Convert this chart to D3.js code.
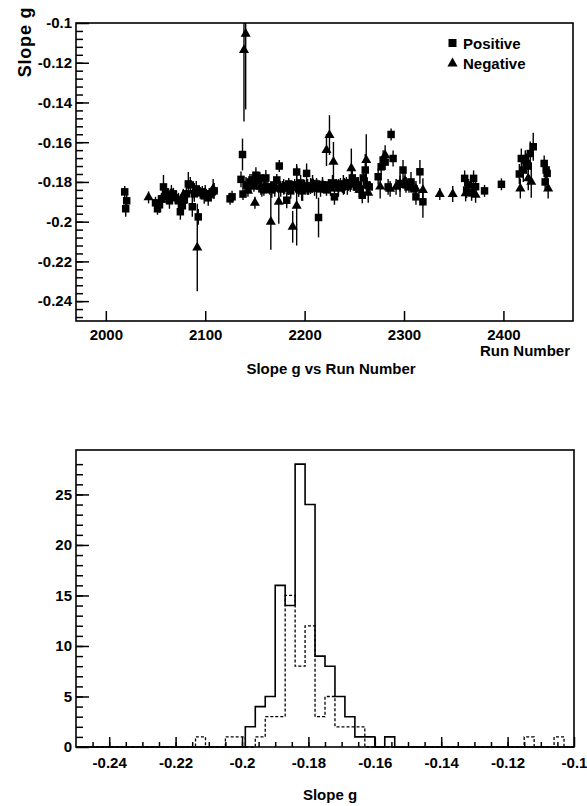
<!DOCTYPE html>
<html>
<head>
<meta charset="utf-8">
<script src="https://cdn.jsdelivr.net/npm/d3@7"></script>
<style>
  body { margin: 0; background: #fff; }
  svg { display: block; }
  text { font-family: "Liberation Sans", Arial, sans-serif; font-weight: bold; fill: #000; }
</style>
</head>
<body>
<svg id="chart" width="587" height="806"></svg>
<script>
// ---------- DATA ----------
// Top plot: [run number, slope g, error]
const positiveRuns = [
  [2019,-0.185,0.003],[2020,-0.1935,0.004],[2021,-0.1895,0.003],
  [2050,-0.1905,0.003],[2052,-0.1935,0.003],[2054,-0.1915,0.004],[2056,-0.1885,0.003],
  [2058,-0.1825,0.006],[2060,-0.185,0.004],[2062,-0.1875,0.003],[2064,-0.1895,0.004],
  [2066,-0.187,0.003],[2068,-0.186,0.003],[2070,-0.188,0.003],[2073,-0.1895,0.004],
  [2075,-0.195,0.004],[2077,-0.192,0.003],[2079,-0.189,0.004],[2081,-0.186,0.005],
  [2083,-0.181,0.006],[2085,-0.1815,0.004],[2087,-0.1925,0.005],[2089,-0.186,0.004],
  [2091,-0.1835,0.004],[2093,-0.1976,0.004],[2095,-0.1855,0.003],[2097,-0.185,0.003],
  [2099,-0.187,0.004],[2101,-0.1865,0.003],[2103,-0.188,0.004],[2105,-0.186,0.003],
  [2107,-0.185,0.003],[2109,-0.1845,0.004],
  [2125,-0.1885,0.003],[2127,-0.1875,0.003],
  [2136,-0.1787,0.004],[2137.5,-0.1662,0.008],[2138,-0.1861,0.003],[2141,-0.1815,0.004],
  [2143,-0.183,0.003],[2145,-0.18,0.004],[2147,-0.179,0.003],[2149,-0.182,0.003],
  [2151,-0.1766,0.004],[2153,-0.1795,0.003],[2155,-0.178,0.003],[2157,-0.1835,0.004],
  [2159,-0.184,0.003],[2161,-0.178,0.004],[2163,-0.1825,0.003],[2165,-0.1835,0.003],
  [2167,-0.184,0.004],[2169,-0.1815,0.003],[2172,-0.179,0.003],[2174.5,-0.172,0.003],
  [2176,-0.1835,0.004],[2178,-0.1825,0.003],[2180,-0.183,0.003],[2182,-0.1892,0.004],
  [2184,-0.181,0.003],[2186,-0.1845,0.004],[2188,-0.1825,0.003],[2190,-0.1815,0.003],
  [2192,-0.175,0.004],[2194,-0.1835,0.004],[2196,-0.1805,0.004],[2198,-0.1845,0.005],
  [2200,-0.182,0.003],[2202,-0.1757,0.005],[2204,-0.1835,0.003],[2206,-0.182,0.004],
  [2208,-0.1825,0.003],[2210,-0.183,0.004],[2212,-0.181,0.003],[2214,-0.1979,0.01],
  [2216,-0.1835,0.004],[2218,-0.1815,0.003],[2220,-0.1825,0.003],[2222,-0.184,0.003],
  [2224,-0.1815,0.003],[2226,-0.183,0.004],[2228,-0.1805,0.004],[2230,-0.1875,0.004],
  [2232,-0.1815,0.003],[2234,-0.1825,0.004],[2236,-0.181,0.003],[2238,-0.1825,0.003],
  [2240,-0.182,0.004],[2242,-0.1805,0.003],[2244,-0.1815,0.003],[2246,-0.181,0.004],
  [2248,-0.178,0.004],[2250,-0.1795,0.003],[2252,-0.1825,0.003],[2254,-0.1815,0.004],
  [2256,-0.1835,0.003],[2258,-0.1867,0.004],[2259,-0.178,0.005],[2261,-0.174,0.008],
  [2263,-0.1816,0.004],[2265,-0.1825,0.003],[2274,-0.1774,0.004],[2277,-0.1724,0.004],
  [2279,-0.169,0.005],[2281,-0.17,0.004],[2284,-0.1825,0.004],[2287,-0.1561,0.003],
  [2289,-0.1682,0.004],[2296,-0.1808,0.004],[2299,-0.174,0.005],[2302,-0.1815,0.004],
  [2305,-0.1825,0.003],[2307,-0.18,0.005],[2310,-0.1835,0.004],[2312,-0.1875,0.004],
  [2316,-0.1749,0.006],[2319,-0.19,0.008],
  [2361,-0.1782,0.004],[2363,-0.1841,0.004],[2365,-0.1815,0.003],[2368,-0.1855,0.004],
  [2370,-0.1782,0.004],[2372,-0.1824,0.004],[2381,-0.1845,0.003],[2398,-0.1812,0.003],
  [2416,-0.176,0.005],[2418,-0.1682,0.005],[2420,-0.174,0.006],[2422,-0.169,0.005],
  [2423,-0.1707,0.005],[2425,-0.172,0.006],[2427,-0.1657,0.006],[2430,-0.1623,0.007],
  [2441,-0.1707,0.004],[2442,-0.18,0.004],[2443,-0.174,0.004],[2444,-0.1757,0.005]
];
const negativeRuns = [
  [2043,-0.1878,0.003],[2056,-0.189,0.003],[2066,-0.1855,0.004],[2078,-0.1865,0.003],
  [2089,-0.1845,0.004],[2092,-0.213,0.022],[2100,-0.1855,0.004],[2108,-0.1835,0.005],
  [2139,-0.1136,0.036],[2140.7,-0.1055,0.038],[2143,-0.1845,0.003],[2150,-0.1905,0.003],
  [2156,-0.1825,0.004],[2160,-0.1815,0.003],[2166,-0.2001,0.014],[2170,-0.1835,0.004],
  [2174,-0.190,0.011],[2179,-0.1825,0.004],[2184,-0.1835,0.003],[2188,-0.2026,0.008],
  [2192,-0.192,0.02],[2197,-0.1845,0.005],[2203,-0.1825,0.004],[2208,-0.1805,0.004],
  [2212,-0.1835,0.005],[2218,-0.1815,0.004],[2222,-0.164,0.008],[2225,-0.1564,0.01],
  [2229,-0.1699,0.01],[2234,-0.1835,0.004],[2239,-0.1815,0.005],[2243,-0.1825,0.004],
  [2247,-0.1732,0.01],[2250,-0.1805,0.004],[2255,-0.184,0.004],[2262,-0.169,0.013],
  [2264,-0.1855,0.005],[2276,-0.1824,0.006],[2281,-0.1665,0.005],[2286,-0.1835,0.004],
  [2292,-0.1825,0.004],[2296,-0.1816,0.006],[2301,-0.1795,0.005],[2312,-0.1835,0.004],
  [2319,-0.1841,0.006],[2336,-0.1861,0.003],[2349,-0.1861,0.004],[2362,-0.1858,0.004],
  [2372,-0.1865,0.004],[2417,-0.1833,0.005],[2425,-0.1782,0.006],[2428,-0.18,0.008],
  [2445,-0.1833,0.005]
];
const runTicks = [2000, 2100, 2200, 2300, 2400];
const slopeTicks = [-0.1, -0.12, -0.14, -0.16, -0.18, -0.2, -0.22, -0.24];

// Bottom plot: histogram, 50 bins from -0.25 to -0.1
const histBinLow = -0.25, histBinWidth = 0.003;
const positiveCounts = [0,0,0,0,0,0,0,0,0,0, 0,0,0,0,0,0,0,2,4,5, 16,14,28,24,9,8,5,3,1,1, 0,1,0,0,0,0,0,0,0,0, 0,0,0,0,0,0,0,0,0,0];
const negativeCounts = [0,0,0,0,0,0,0,0,0,0, 0,0,1,0,0,1,1,0,1,3, 3,15,8,12,3,5,2,2,2,0, 0,0,0,0,0,0,0,0,0,0, 0,0,0,0,0,1,0,0,1,0];
const histXTicks = [-0.24, -0.22, -0.2, -0.18, -0.16, -0.14, -0.12, -0.1];
const histYTicks = [0, 5, 10, 15, 20, 25];

// ---------- DRAW ----------
const svg = d3.select("#chart");
const fmt = d => String(+d.toFixed(3));

// ===== Top plot =====
const boxTop = {l: 76, r: 573, t: 23, b: 321};
const xRun = d3.scaleLinear().domain([1970, 2470]).range([boxTop.l, boxTop.r]);
const ySlope = d3.scaleLinear().domain([-0.25, -0.1]).range([boxTop.b, boxTop.t]);

svg.append("clipPath").attr("id", "clipTop")
  .append("rect").attr("x", boxTop.l).attr("y", boxTop.t).attr("width", boxTop.r - boxTop.l).attr("height", boxTop.b - boxTop.t);

const gTop = svg.append("g").attr("clip-path", "url(#clipTop)");

function drawSeries(data, symType, size) {
  gTop.append("g").selectAll("line").data(data).join("line")
    .attr("x1", d => xRun(d[0])).attr("x2", d => xRun(d[0]))
    .attr("y1", d => ySlope(d[1] - d[2])).attr("y2", d => ySlope(d[1] + d[2]))
    .attr("stroke", "#000").attr("stroke-width", 1.4);
  gTop.append("g").selectAll("path").data(data).join("path")
    .attr("transform", d => `translate(${xRun(d[0])},${ySlope(d[1])})`)
    .attr("d", d3.symbol().type(symType).size(size))
    .attr("fill", "#000");
}
drawSeries(positiveRuns, d3.symbolSquare, 56);
drawSeries(negativeRuns, d3.symbolTriangle, 44);

// axes
const yMinorTop = d3.range(-0.248, -0.1, 0.004).map(v => +v.toFixed(3));
svg.append("g").attr("transform", `translate(${boxTop.l},0)`)
  .call(d3.axisLeft(ySlope).tickValues(yMinorTop).tickSize(-7).tickFormat(""))
  .call(g => g.select(".domain").remove());
svg.append("g").attr("transform", `translate(${boxTop.l},0)`)
  .call(d3.axisLeft(ySlope).tickValues(slopeTicks).tickSize(-13).tickPadding(4).tickFormat(fmt))
  .call(g => g.select(".domain").remove())
  .call(g => g.selectAll("text").style("font-size", "15px"));
svg.append("g").attr("transform", `translate(0,${boxTop.b})`)
  .call(d3.axisBottom(xRun).tickValues(runTicks).tickSize(-10).tickPadding(8).tickFormat(d3.format("d")))
  .call(g => g.select(".domain").remove())
  .call(g => g.selectAll("text").style("font-size", "15px"));
svg.selectAll(".tick line").attr("stroke", "#000").attr("stroke-width", 1.5);

svg.append("rect").attr("x", boxTop.l).attr("y", boxTop.t).attr("width", boxTop.r - boxTop.l).attr("height", boxTop.b - boxTop.t)
  .attr("fill", "none").attr("stroke", "#000").attr("stroke-width", 1.6);

// labels
svg.append("text").attr("transform", "translate(31,42) rotate(-90)")
  .attr("text-anchor", "middle").style("font-size", "18px").style("letter-spacing", "0.8px").text("Slope g");
svg.append("text").attr("x", 570).attr("y", 356).attr("text-anchor", "end")
  .style("font-size", "15px").text("Run Number");
svg.append("text").attr("x", 331).attr("y", 374).attr("text-anchor", "middle")
  .style("font-size", "15px").text("Slope g vs Run Number");

// legend
const leg = svg.append("g");
leg.append("path").attr("transform", "translate(452.5,43)").attr("d", d3.symbol().type(d3.symbolSquare).size(64)).attr("fill", "#000");
leg.append("text").attr("x", 463).attr("y", 48.5).style("font-size", "15px").text("Positive");
leg.append("path").attr("transform", "translate(452.5,63.5)").attr("d", d3.symbol().type(d3.symbolTriangle).size(45)).attr("fill", "#000");
leg.append("text").attr("x", 463).attr("y", 68.5).style("font-size", "15px").text("Negative");

// ===== Bottom plot =====
const boxBot = {l: 76, r: 574, t: 450, b: 747};
const xSlope = d3.scaleLinear().domain([-0.25, -0.1]).range([boxBot.l, boxBot.r]);
const yCount = d3.scaleLinear().domain([0, 29.4]).range([boxBot.b, boxBot.t]);

function stepPoints(counts) {
  const pts = counts.map((c, i) => [histBinLow + i * histBinWidth, c]);
  pts.push([histBinLow + counts.length * histBinWidth, counts[counts.length - 1]]);
  return pts;
}
const stepLine = d3.line().x(d => xSlope(d[0])).y(d => yCount(d[1])).curve(d3.curveStepAfter);

svg.append("path").attr("d", stepLine(stepPoints(negativeCounts)))
  .attr("fill", "none").attr("stroke", "#000").attr("stroke-width", 1.3).attr("stroke-dasharray", "3,2");
svg.append("path").attr("d", stepLine(stepPoints(positiveCounts)))
  .attr("fill", "none").attr("stroke", "#000").attr("stroke-width", 1.6);

const hxMinor = d3.range(-0.245, -0.1, 0.005).map(v => +v.toFixed(3));
const hyMinor = d3.range(1, 29, 1);
const gb = svg.append("g");
gb.append("g").attr("transform", `translate(0,${boxBot.b})`)
  .call(d3.axisBottom(xSlope).tickValues(hxMinor).tickSize(-5).tickFormat(""))
  .call(g => g.select(".domain").remove());
gb.append("g").attr("transform", `translate(0,${boxBot.b})`)
  .call(d3.axisBottom(xSlope).tickValues(histXTicks).tickSize(-10).tickPadding(10).tickFormat(fmt))
  .call(g => g.select(".domain").remove())
  .call(g => g.selectAll("text").style("font-size", "15px"));
gb.append("g").attr("transform", `translate(${boxBot.l},0)`)
  .call(d3.axisLeft(yCount).tickValues(hyMinor).tickSize(-7).tickFormat(""))
  .call(g => g.select(".domain").remove());
gb.append("g").attr("transform", `translate(${boxBot.l},0)`)
  .call(d3.axisLeft(yCount).tickValues(histYTicks).tickSize(-13).tickPadding(4).tickFormat(d3.format("d")))
  .call(g => g.select(".domain").remove())
  .call(g => g.selectAll("text").style("font-size", "15px"));
gb.selectAll(".tick line").attr("stroke", "#000").attr("stroke-width", 1.5);

svg.append("rect").attr("x", boxBot.l).attr("y", boxBot.t).attr("width", boxBot.r - boxBot.l).attr("height", boxBot.b - boxBot.t)
  .attr("fill", "none").attr("stroke", "#000").attr("stroke-width", 1.6);

svg.append("text").attr("x", 330).attr("y", 800).attr("text-anchor", "middle")
  .style("font-size", "15px").text("Slope g");
</script>
</body>
</html>
